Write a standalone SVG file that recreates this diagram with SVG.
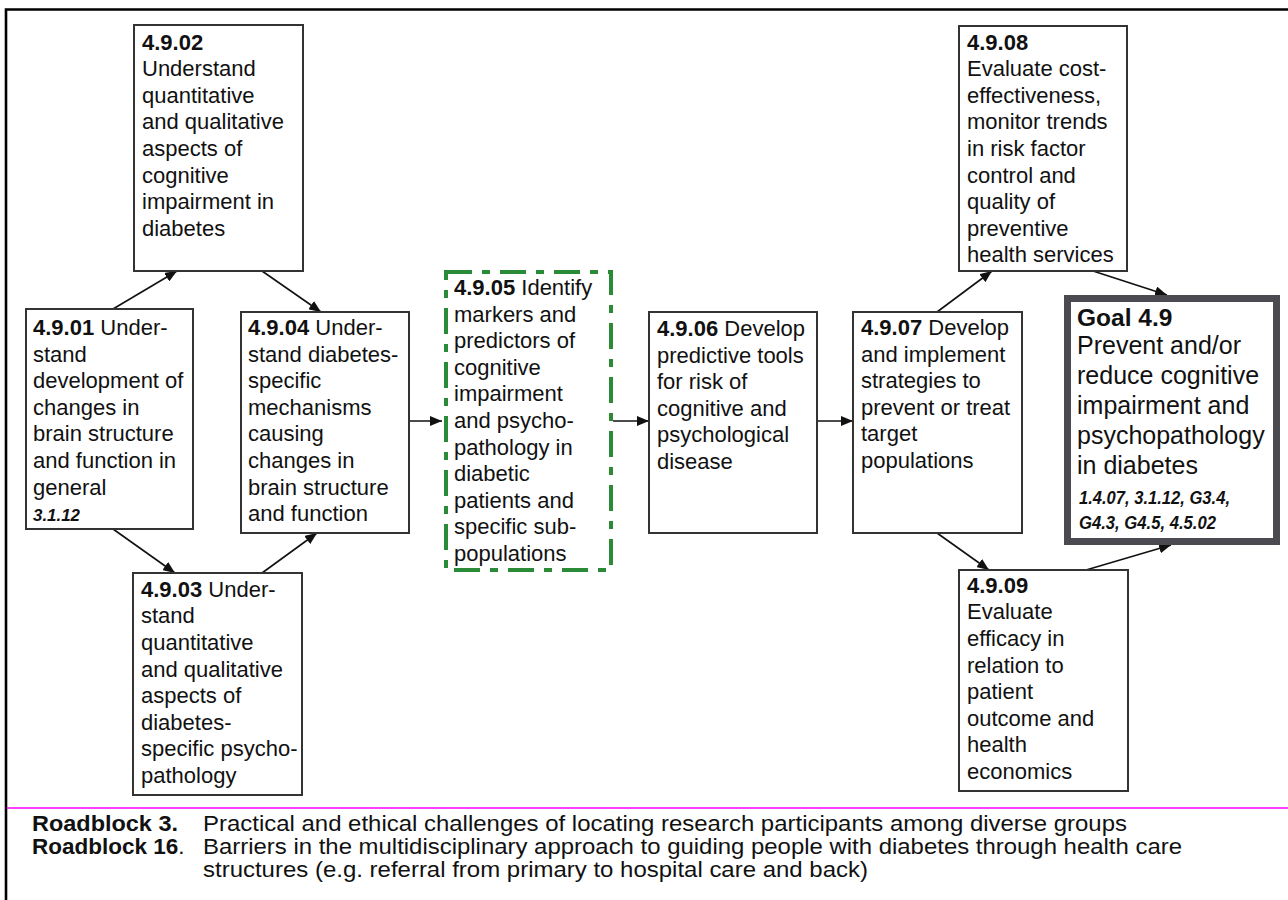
<svg xmlns="http://www.w3.org/2000/svg" width="1288" height="900" viewBox="0 0 1288 900">
  <style>
    text { font-family: "Liberation Sans", Arial, sans-serif; fill: #111; }
    .t { font-size: 22px; }
    .b { font-weight: bold; }
    .ref { font-weight: bold; font-style: italic; }
    .box { fill: #fff; stroke: #333; stroke-width: 2; }
    .key { fill: #fff; stroke: #2b8a36; stroke-width: 4; stroke-dasharray: 26 10 8 10; }
    .goal { fill: #fff; stroke: #4a4a50; stroke-width: 7; }
    .edge { stroke: #111; stroke-width: 1.6; fill: none; marker-end: url(#arrow); }
    .rb { font-size: 22.5px; }
  </style>
  <defs>
    <marker id="arrow" viewBox="0 0 12 10" refX="12" refY="5" markerWidth="12" markerHeight="10" markerUnits="userSpaceOnUse" orient="auto">
      <path d="M0,0 L12,5 L0,10 z" fill="#111"/>
    </marker>
  </defs>

  <rect width="1288" height="900" fill="#fff"/>

  <!-- outer frame (open to the right and bottom) -->
  <path d="M1290,9.5 L6,9.5 L6,902" fill="none" stroke="#000" stroke-width="2.6"/>

  <!-- connectors -->
  <g id="connectors">
    <line class="edge" x1="113" y1="309" x2="177" y2="271"/>
    <line class="edge" x1="262" y1="271" x2="321" y2="312"/>
    <line class="edge" x1="113" y1="529" x2="175" y2="573"/>
    <line class="edge" x1="262" y1="573" x2="317" y2="533"/>
    <line class="edge" x1="409" y1="421" x2="442" y2="421"/>
    <line class="edge" x1="613" y1="421" x2="649" y2="421"/>
    <line class="edge" x1="817" y1="421" x2="853" y2="421"/>
    <line class="edge" x1="937" y1="312" x2="992" y2="271"/>
    <line class="edge" x1="1093" y1="271" x2="1167" y2="295"/>
    <line class="edge" x1="937" y1="533" x2="989" y2="570"/>
    <line class="edge" x1="1086" y1="570" x2="1171" y2="545"/>
  </g>

  <g id="n4902">
    <rect class="box" x="134" y="25" width="169" height="246"/>
    <text class="t" x="142" y="49.5"><tspan class="b">4.9.02</tspan><tspan x="142" dy="26.6">Understand</tspan><tspan x="142" dy="26.6">quantitative</tspan><tspan x="142" dy="26.6">and qualitative</tspan><tspan x="142" dy="26.6">aspects of</tspan><tspan x="142" dy="26.6">cognitive</tspan><tspan x="142" dy="26.6">impairment in</tspan><tspan x="142" dy="26.6">diabetes</tspan></text>
  </g>

  <g id="n4901">
    <rect class="box" x="26" y="309" width="167" height="220"/>
    <text class="t" x="33" y="335"><tspan class="b">4.9.01</tspan> Under-<tspan x="33" dy="26.6">stand</tspan><tspan x="33" dy="26.6">development of</tspan><tspan x="33" dy="26.6">changes in</tspan><tspan x="33" dy="26.6">brain structure</tspan><tspan x="33" dy="26.6">and function in</tspan><tspan x="33" dy="26.6">general</tspan></text>
    <text class="ref" x="33" y="521" font-size="16.5" textLength="47" lengthAdjust="spacingAndGlyphs">3.1.12</text>
  </g>

  <g id="n4904">
    <rect class="box" x="241" y="312" width="168" height="221"/>
    <text class="t" x="248" y="335"><tspan class="b">4.9.04</tspan> Under-<tspan x="248" dy="26.6">stand diabetes-</tspan><tspan x="248" dy="26.6">specific</tspan><tspan x="248" dy="26.6">mechanisms</tspan><tspan x="248" dy="26.6">causing</tspan><tspan x="248" dy="26.6">changes in</tspan><tspan x="248" dy="26.6">brain structure</tspan><tspan x="248" dy="26.6">and function</tspan></text>
  </g>

  <g id="n4903">
    <rect class="box" x="133" y="573" width="169" height="222"/>
    <text class="t" x="141" y="596.7"><tspan class="b">4.9.03</tspan> Under-<tspan x="141" dy="26.6">stand</tspan><tspan x="141" dy="26.6">quantitative</tspan><tspan x="141" dy="26.6">and qualitative</tspan><tspan x="141" dy="26.6">aspects of</tspan><tspan x="141" dy="26.6">diabetes-</tspan><tspan x="141" dy="26.6">specific psycho-</tspan><tspan x="141" dy="26.6">pathology</tspan></text>
  </g>

  <g id="n4905">
    <rect class="key" x="446" y="272" width="165" height="298"/>
    <text class="t" x="454" y="295"><tspan class="b">4.9.05</tspan> Identify<tspan x="454" dy="26.6">markers and</tspan><tspan x="454" dy="26.6">predictors of</tspan><tspan x="454" dy="26.6">cognitive</tspan><tspan x="454" dy="26.6">impairment</tspan><tspan x="454" dy="26.6">and psycho-</tspan><tspan x="454" dy="26.6">pathology in</tspan><tspan x="454" dy="26.6">diabetic</tspan><tspan x="454" dy="26.6">patients and</tspan><tspan x="454" dy="26.6">specific sub-</tspan><tspan x="454" dy="26.6">populations</tspan></text>
  </g>

  <g id="n4906">
    <rect class="box" x="649" y="312" width="168" height="221"/>
    <text class="t" x="657" y="336"><tspan class="b">4.9.06</tspan> Develop<tspan x="657" dy="26.6">predictive tools</tspan><tspan x="657" dy="26.6">for risk of</tspan><tspan x="657" dy="26.6">cognitive and</tspan><tspan x="657" dy="26.6">psychological</tspan><tspan x="657" dy="26.6">disease</tspan></text>
  </g>

  <g id="n4907">
    <rect class="box" x="853" y="312" width="169" height="221"/>
    <text class="t" x="861" y="335"><tspan class="b">4.9.07</tspan> Develop<tspan x="861" dy="26.6">and implement</tspan><tspan x="861" dy="26.6">strategies to</tspan><tspan x="861" dy="26.6">prevent or treat</tspan><tspan x="861" dy="26.6">target</tspan><tspan x="861" dy="26.6">populations</tspan></text>
  </g>

  <g id="n4908">
    <rect class="box" x="959" y="26" width="168" height="245"/>
    <text class="t" x="967" y="49.5"><tspan class="b">4.9.08</tspan><tspan x="967" dy="26.6">Evaluate cost-</tspan><tspan x="967" dy="26.6">effectiveness,</tspan><tspan x="967" dy="26.6">monitor trends</tspan><tspan x="967" dy="26.6">in risk factor</tspan><tspan x="967" dy="26.6">control and</tspan><tspan x="967" dy="26.6">quality of</tspan><tspan x="967" dy="26.6">preventive</tspan><tspan x="967" dy="26.6">health services</tspan></text>
  </g>

  <g id="n4909">
    <rect class="box" x="959" y="570" width="169" height="221"/>
    <text class="t" x="967" y="592.7"><tspan class="b">4.9.09</tspan><tspan x="967" dy="26.6">Evaluate</tspan><tspan x="967" dy="26.6">efficacy in</tspan><tspan x="967" dy="26.6">relation to</tspan><tspan x="967" dy="26.6">patient</tspan><tspan x="967" dy="26.6">outcome and</tspan><tspan x="967" dy="26.6">health</tspan><tspan x="967" dy="26.6">economics</tspan></text>
  </g>

  <g id="goal49">
    <rect class="goal" x="1067.5" y="298.5" width="209" height="243"/>
    <text class="b" x="1077" y="326" font-size="24.5">Goal 4.9</text>
    <text x="1077" y="354" font-size="25">Prevent and/or<tspan x="1077" dy="30">reduce cognitive</tspan><tspan x="1077" dy="30">impairment and</tspan><tspan x="1077" dy="30">psychopathology</tspan><tspan x="1077" dy="30">in diabetes</tspan></text>
    <text class="ref" x="1079" y="504.3" font-size="18" textLength="151" lengthAdjust="spacingAndGlyphs">1.4.07, 3.1.12, G3.4,</text>
    <text class="ref" x="1079" y="529.3" font-size="18" textLength="137" lengthAdjust="spacingAndGlyphs">G4.3, G4.5, 4.5.02</text>
  </g>

  <!-- roadblocks -->
  <line x1="7" y1="808" x2="1288" y2="808" stroke="#ff00ff" stroke-width="1.4"/>
  <g id="roadblocks">
    <text class="rb b" x="32" y="830.5" textLength="146" lengthAdjust="spacingAndGlyphs">Roadblock 3.</text>
    <text class="rb" x="203" y="830.5" textLength="924" lengthAdjust="spacingAndGlyphs">Practical and ethical challenges of locating research participants among diverse groups</text>
    <text class="rb" x="32" y="853.5"><tspan class="b">Roadblock 16</tspan>.</text>
    <text class="rb" x="203" y="853.5" textLength="979" lengthAdjust="spacingAndGlyphs">Barriers in the multidisciplinary approach to guiding people with diabetes through health care</text>
    <text class="rb" x="203" y="876.5" textLength="665" lengthAdjust="spacingAndGlyphs">structures (e.g. referral from primary to hospital care and back)</text>
  </g>
</svg>
